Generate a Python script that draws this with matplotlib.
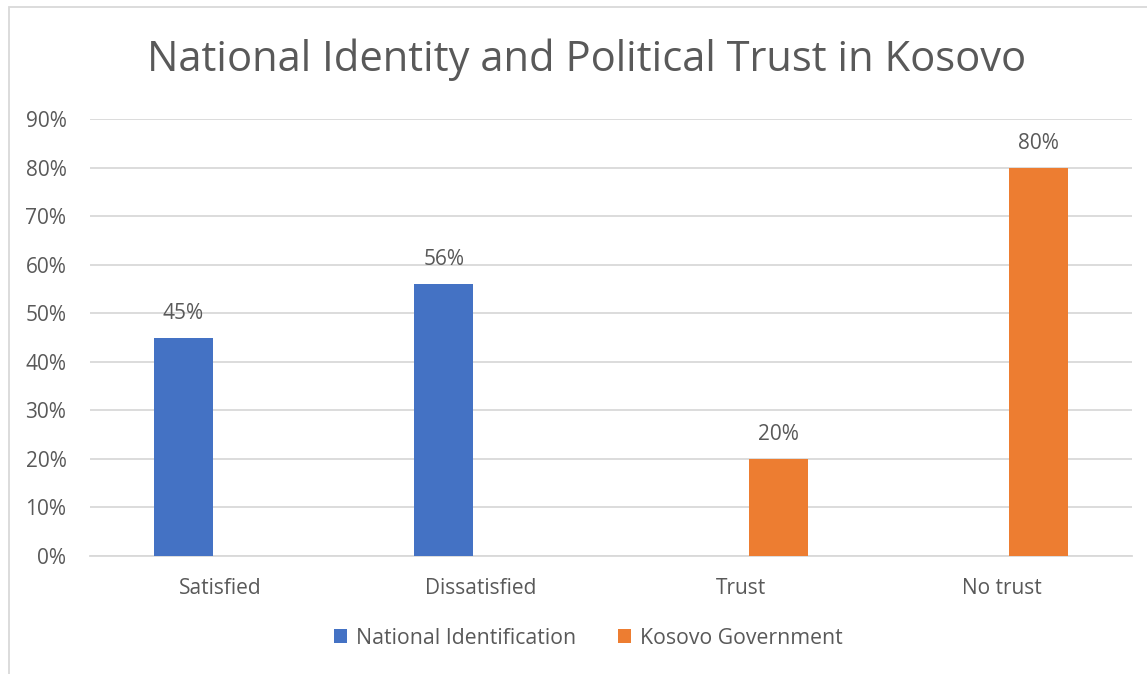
import numpy as np
import matplotlib.pyplot as plt
from matplotlib.patches import Rectangle

categories = ['Satisfied', 'Dissatisfied', 'Trust', 'No trust']
national_identification = [0.45, 0.56, np.nan, np.nan]
kosovo_government = [np.nan, np.nan, 0.20, 0.80]
y_ticks = [0.0, 0.1, 0.2, 0.3, 0.4, 0.5, 0.6, 0.7, 0.8, 0.9]

text_color = '#595959'
grid_color = '#D9D9D9'
blue = '#4472C4'
orange = '#ED7D31'

plt.rcParams['font.family'] = ['Open Sans', 'DejaVu Sans']

fig = plt.figure(figsize=(11.47, 6.74), dpi=100)
ax = fig.add_axes([90 / 1147, 118 / 674, 1042 / 1147, 437 / 674])

x = np.arange(len(categories))
width = 0.225
offset = 0.142
bars_a = ax.bar(x - offset, national_identification, width, color=blue,
                label='National Identification', zorder=3)
bars_b = ax.bar(x + offset, kosovo_government, width, color=orange,
                label='Kosovo Government', zorder=3)

for bars, values in [(bars_a, national_identification), (bars_b, kosovo_government)]:
    for bar, v in zip(bars, values):
        if np.isnan(v):
            continue
        ax.annotate(f'{v:.0%}', (bar.get_x() + bar.get_width() / 2, v),
                    xytext=(0, 10), textcoords='offset points',
                    ha='center', va='bottom', fontsize=15, color=text_color)

ax.set_xlim(-0.5, len(categories) - 0.5)
ax.set_ylim(0, 0.9)
ax.set_yticks(y_ticks)
ax.set_yticklabels([f'{t:.0%}' for t in y_ticks])
ax.set_xticks(x)
ax.set_xticklabels(categories)
ax.tick_params(axis='both', length=0, labelsize=15, labelcolor=text_color)
ax.tick_params(axis='x', pad=16)
ax.tick_params(axis='y', pad=17)
ax.grid(axis='y', color=grid_color, linewidth=1.3, zorder=0)
for side in ['top', 'right', 'left']:
    ax.spines[side].set_visible(False)
ax.spines['bottom'].set_color(grid_color)
ax.spines['bottom'].set_linewidth(1.3)

fig.text(0.511, 1 - 60 / 674, 'National Identity and Political Trust in Kosovo',
         ha='center', va='center', fontsize=30, color=text_color)

fig.legend(loc='center', bbox_to_anchor=(0.513, 1 - 638 / 674), ncol=2,
           frameon=False, fontsize=15.3, labelcolor=text_color,
           handlelength=0.6, handleheight=0.6, handletextpad=0.4,
           columnspacing=2.0)

fig.patches.append(Rectangle((9 / 1147, -0.1), 1.2, 1.1 - 7 / 674,
                             transform=fig.transFigure, fill=False,
                             edgecolor=grid_color, linewidth=1.3))

fig.savefig('out.png', dpi=100)
